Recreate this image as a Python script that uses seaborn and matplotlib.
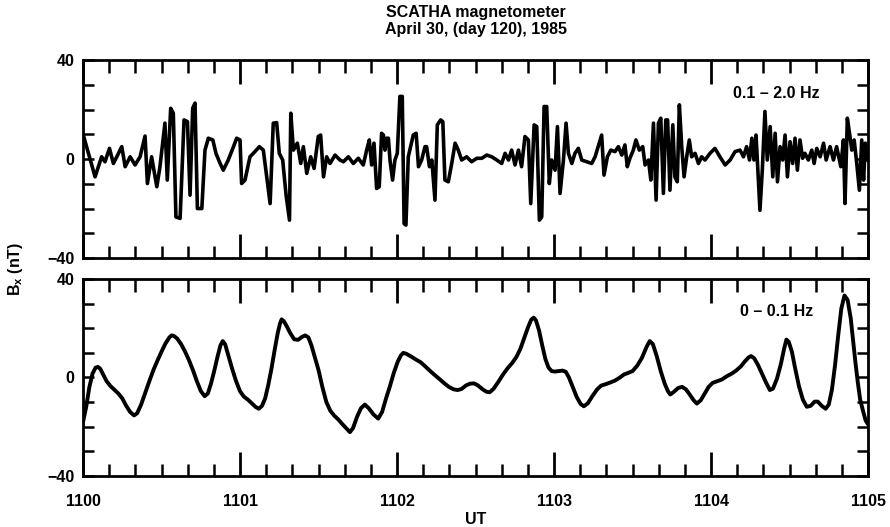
import numpy as np
import pandas as pd
import matplotlib
matplotlib.use("Agg")
import matplotlib.pyplot as plt
from matplotlib.ticker import MultipleLocator, FixedLocator
import seaborn as sns

# SCATHA magnetometer, April 30 (day 120) 1985, Bx from 1100 to 1105 UT
# high-pass trace (0.1 - 2.0 Hz): time in seconds after 1100 UT, Bx in nT
hf_sec = [0.1, 4.6, 7.1, 8.4, 10.1, 11.6, 12.9, 14.8, 16.1, 18.0, 19.9, 21.8, 23.7, 24.6,
          26.2, 28.2, 29.4, 31.3, 32.2, 33.5, 34.5, 35.5, 37.1, 38.6, 39.9, 40.9, 41.9,
          42.8, 43.7, 45.4, 46.6, 47.9, 49.6, 50.8, 52.4, 53.6, 55.5, 57.5, 58.7, 60.0,
          60.6, 61.9, 63.8, 65.7, 67.4, 68.9, 70.2, 71.5, 72.7, 74.0, 75.0, 76.3, 77.6,
          78.9, 79.4, 80.4, 81.9, 83.2, 84.2, 85.5, 87.0, 88.3, 89.9, 90.8, 91.9, 93.1,
          94.4, 96.3, 98.2,
          99.5, 101.4, 103.3, 105.2, 107.1, 108.4, 109.4, 110.3, 111.2, 112.2, 113.2,
          114.1, 114.8, 115.4, 116.0, 116.7, 117.3, 118.3, 119.2, 120.1, 121.1, 122.0,
          122.7, 123.4, 124.3, 125.2, 126.2, 127.3, 128.2, 129.4, 130.7, 131.3, 132.4,
          133.3, 134.5, 135.4, 136.7, 137.5, 138.3, 139.6, 140.9, 142.2, 143.4, 144.7,
          146.6, 148.5, 150.5, 152.4, 154.3, 156.2, 158.1, 160.0, 161.3, 162.6, 163.8,
          165.1, 166.4, 167.6, 168.9, 170.2, 171.1, 172.4, 173.4, 174.4, 175.3, 176.2,
          177.2, 178.2, 179.1, 180.4, 181.3, 182.3, 183.6, 184.6, 185.5, 186.8, 188.0,
          189.3, 190.6, 192.5, 194.4, 195.7,
          198.2, 199.1, 200.4, 201.7, 203.3, 204.6, 205.9, 207.1, 208.0, 209.0, 210.3,
          211.3, 212.6, 213.9, 214.8, 216.1, 217.0, 218.0, 219.0, 219.9, 220.8, 221.8,
          222.7, 223.4, 224.3, 225.4, 226.2, 227.1, 227.9, 228.8, 229.7, 230.7, 231.7,
          232.6, 233.9, 235.2, 236.4, 237.7, 239.6, 241.5, 243.4, 245.4, 247.3, 249.2,
          251.1, 252.4, 253.6, 254.7, 255.6, 256.4, 257.2, 258.1, 258.7, 259.6, 260.6,
          261.5, 262.6, 263.6, 264.5, 265.4, 266.4, 267.4, 268.3, 269.2, 270.2, 271.2,
          272.1, 273.0, 274.0, 275.0, 275.9, 277.2, 278.5, 279.4, 280.4, 281.7, 283.0,
          284.0, 285.5, 286.8, 288.0, 289.6, 290.6, 291.2, 292.1, 293.1, 293.8, 294.7,
          295.7, 296.7, 297.6, 298.3, 299.0, 299.7]
hf_bx = [9.7, -7.2, 0.9, -1.1, 4.3, -1.8, 0.9, 5.0, -3.1, 0.9, -2.4, 0.9, 9.3, -9.9,
         0.9, -11.2, -3.1, 14.5, -8.5, 20.5, 18.5, -23.4, -24.0, 15.8, 15.1, -14.6, 20.5,
         22.6, -20.0, -20.0, 3.6, 8.4, 7.7, 2.3, -1.8, -4.5, -0.4, 5.0, 8.4, 7.7,
         -9.9, -8.5, 0.9, 3.0, 5.0, 3.6, -7.2, -18.0, 14.5, 14.7, 2.3, -0.4, -14.6,
         -24.7, 18.5, 3.6, 6.4, -1.8, 5.0, -5.8, 0.9, -3.8, 9.1, 9.7, -7.2, 0.9,
         -1.8, 1.6, -0.4,
         -1.1, 0.9, -1.8, 0.3, -2.4, 3.6, 7.7, -2.4, 6.4, -11.9, -11.2,
         10.4, 9.7, 3.6, 8.4, 8.4, -0.4, -8.5, -0.4, 2.3, 25.3, 25.3,
         -26.1, -26.7, 0.9, 5.0, 9.7, 10.4, -3.1, -0.4, 5.0, 5.0, -3.1,
         -0.4, -16.6, 13.8, 15.8, 15.1, -8.5, -9.2, -1.8, 6.4, 3.6, -0.4,
         0.9, -1.1, 0.3, 0.3, 1.6, 0.9, -0.4, -1.8, 2.3, -0.4, 3.6,
         -2.4, 3.6, -3.1, 9.1, 7.7, -18.0, 13.8, 13.1, -24.7, -23.4, 21.2,
         21.2, -9.9, -0.4, -4.5, 13.1, -13.9, -0.4, 14.5, 2.3, -1.8, 2.3,
         4.3, -0.4, -1.1, -1.8, 0.9,
         9.7, -6.5, 0.9, 3.6, 3.0, 5.0, 1.6, 5.7, -3.1, 0.3, 3.6,
         7.7, 3.6, 5.0, -2.4, -0.4, -8.5, 14.5, -16.6, 14.5, 16.5, -13.9,
         15.8, 15.8, -12.6, 13.8, -7.2, -9.2, 21.9, 5.0, -7.2, 0.9, 7.7,
         0.9, 2.3, -1.8, 0.9, -0.4, 2.3, 4.3, 0.9, -2.4, -0.4, 3.0,
         3.6, 0.9, 5.0, -0.4, 8.4, -0.4, 9.7, -8.5, -20.7, -4.5, 19.2,
         -0.4, 13.1, -7.2, 10.4, -9.2, 5.0, -0.4, 9.7, -7.2, 7.0, -1.8,
         8.4, -4.5, 7.7, 0.3, 2.3, -0.4, 3.6, -1.8, 4.3, 0.9, 6.4,
         -0.4, 5.0, -0.4, 5.0, -3.1, 7.7, -18.0, 16.5, 9.1, 3.6, 7.7,
         -1.8, -12.6, 7.7, -8.5, 6.4, -0.4]

# low-pass trace (0 - 0.1 Hz): time in minutes after 1100 UT, Bx in nT
lf_min = [0.000, 0.020, 0.040, 0.060, 0.080, 0.095, 0.110, 0.130, 0.150, 0.175, 0.200,
          0.225, 0.250, 0.275, 0.300, 0.325, 0.345, 0.370, 0.400, 0.425, 0.450, 0.475,
          0.500, 0.525, 0.550, 0.565, 0.580, 0.600, 0.625, 0.650, 0.675, 0.700, 0.725,
          0.750, 0.775, 0.795, 0.815, 0.835, 0.855, 0.875, 0.890, 0.905, 0.925, 0.950,
          0.975, 1.000, 1.025, 1.050, 1.075, 1.100, 1.120, 1.140, 1.160, 1.180, 1.200,
          1.220, 1.240, 1.255, 1.265, 1.280, 1.300, 1.320, 1.345, 1.370, 1.395, 1.415,
          1.435, 1.455, 1.475, 1.500, 1.525, 1.550, 1.575, 1.600, 1.625, 1.650, 1.675,
          1.700, 1.720, 1.745, 1.770, 1.795, 1.820, 1.850, 1.880, 1.905, 1.930, 1.955,
          1.980, 2.005, 2.025, 2.040, 2.060, 2.090, 2.120, 2.150, 2.180, 2.210, 2.240,
          2.270, 2.300, 2.330, 2.360, 2.385, 2.410, 2.440, 2.465, 2.490, 2.515, 2.545,
          2.570, 2.590, 2.615, 2.645, 2.675, 2.705, 2.735, 2.760, 2.785, 2.810, 2.835,
          2.855, 2.870, 2.885, 2.905, 2.925, 2.945, 2.965, 2.985, 3.005, 3.030, 3.055,
          3.075, 3.095, 3.120, 3.145, 3.170, 3.190, 3.215, 3.245, 3.275, 3.300, 3.330,
          3.360, 3.390, 3.420, 3.445, 3.470, 3.500, 3.530, 3.560, 3.590, 3.610, 3.630,
          3.655, 3.680, 3.705, 3.725, 3.740, 3.760, 3.790, 3.815, 3.840, 3.865, 3.890,
          3.910, 3.935, 3.960, 3.985, 4.010, 4.040, 4.070, 4.100, 4.130, 4.160, 4.190,
          4.215, 4.240, 4.255, 4.275, 4.300, 4.325, 4.350, 4.375, 4.395, 4.420, 4.445,
          4.465, 4.480, 4.495, 4.515, 4.535, 4.560, 4.585, 4.610, 4.635, 4.660, 4.680,
          4.705, 4.730, 4.750, 4.770, 4.790, 4.810, 4.830, 4.850, 4.870, 4.890, 4.905,
          4.920, 4.935, 4.950, 4.970, 4.985, 5.000]
lf_bx = [-18, -12, -4, 1.5, 4, 4.3, 3.5, 1, -1.5, -3.5, -5,
         -6.5, -8.5, -11.5, -14, -15.4, -14.5, -11, -5.5, -1, 3.3, 7,
         10.5, 13.8, 16.3, 17.1, 16.8, 15.8, 13.5, 10.5, 7, 3, -1.5,
         -5.5, -7.6, -6.5, -2.5, 2.5, 8, 13, 14.8, 13.5, 9, 3.5,
         -1.5, -5.6, -7.8, -9, -10.5, -12, -12.7, -11.5, -8.5, -3, 3.5,
         11, 18, 22, 23.6, 22.8, 20.5, 18, 15.5, 15.3, 16.5, 17.1,
         16.3, 13, 8.5, 3, -4, -10, -13.5, -15.5, -17, -18.8, -20.5,
         -22.2, -20.5, -16, -12.5, -11, -12.5, -15, -16.7, -14, -8.5, -3.5,
         2, 6.5, 9, 10, 9.6, 8.5, 7.3, 6.2, 4.5, 2.7, 1,
         -0.6, -2.3, -3.8, -4.8, -5.1, -4.7, -3.2, -2.5, -2.4, -3.2, -4.8,
         -5.8, -6, -4.6, -1.8, 1.2, 3.8, 6, 8.3, 11.5, 16, 20.5,
         23.5, 24.3, 23.2, 19, 13, 7.5, 4, 2.6, 2.4, 2.6, 2.8,
         2.3, 0, -4, -8, -10.8, -11.7, -10.5, -7.5, -4.8, -3.3, -2.7,
         -2, -1.2, 0, 1.2, 1.8, 2.6, 4.8, 8, 12.5, 14.8, 13.5,
         8.5, 2.5, -2.5, -5.5, -6.9, -6, -4.3, -3.8, -4.8, -7, -9.3,
         -10.6, -9.2, -6.5, -3.8, -2.2, -1.5, -0.8, 0.5, 1.5, 2.8, 4.5,
         6.5, 8.2, 8.7, 7.8, 5, 1.5, -2, -5.1, -4.5, -0.5, 5.5,
         11.5, 15.4, 14.5, 10.5, 4, -3.5, -9, -11.9, -11.5, -9.8, -9.8,
         -11.5, -12.7, -11, -5, 5, 17, 28, 33.3, 31.5, 24, 15,
         6, -2, -9, -14, -17.5, -19]

panel_labels = ["0.1 \u2013 2.0 Hz", "0 \u2013 0.1 Hz"]
ut_labels = ["1100", "1101", "1102", "1103", "1104", "1105"]

hf = pd.DataFrame({"t": np.array(hf_sec) / 60.0, "bx": hf_bx})
lf = pd.DataFrame({"t": lf_min, "bx": lf_bx})

sns.set_style("ticks")
plt.rcParams["font.family"] = ["Liberation Sans", "DejaVu Sans"]
plt.rcParams["font.weight"] = "bold"
plt.rcParams["mathtext.fontset"] = "custom"
plt.rcParams["mathtext.rm"] = "Liberation Sans:bold"
plt.rcParams["mathtext.bf"] = "Liberation Sans:bold"
for key in ["text.color", "axes.labelcolor", "xtick.color", "ytick.color", "axes.edgecolor"]:
    plt.rcParams[key] = "black"

fig = plt.figure(figsize=(8.9, 5.27), dpi=100)
ax1 = fig.add_axes([0.0933, 0.5104, 0.882, 0.3757])
ax2 = fig.add_axes([0.0933, 0.0968, 0.882, 0.3738])

sns.lineplot(data=hf, x="t", y="bx", ax=ax1, color="black", linewidth=2.6,
             sort=False, estimator=None)
sns.lineplot(data=lf, x="t", y="bx", ax=ax2, color="black", linewidth=2.8,
             sort=False, estimator=None)

for ax, lab in zip([ax1, ax2], panel_labels):
    ax.set_xlim(0, 5)
    ax.set_ylim(-40, 40)
    ax.set_xlabel("")
    ax.set_ylabel("")
    for s in ax.spines.values():
        s.set_visible(True)
        s.set_linewidth(2)
        s.set_color("black")
    ax.xaxis.set_major_locator(MultipleLocator(1))
    ax.xaxis.set_minor_locator(MultipleLocator(1 / 6))
    ax.yaxis.set_major_locator(FixedLocator([-40, 0, 40]))
    ax.yaxis.set_minor_locator(MultipleLocator(10))
    ax.tick_params(axis="x", which="major", direction="in", top=True, bottom=True,
                   length=17, width=2, pad=13, labelsize=11.5)
    ax.tick_params(axis="x", which="minor", direction="in", top=True, bottom=True,
                   length=9, width=1.8)
    ax.tick_params(axis="y", which="both", direction="in", left=True, right=True,
                   length=8, width=1.8, pad=6, labelsize=11.5)
    ax.text(0.883, 0.833, lab, transform=ax.transAxes, ha="center", va="center",
            fontsize=11.5, fontweight="bold")

ax1.set_xticklabels([])
ax2.set_xticks(range(6))
ax2.set_xticklabels(ut_labels)
ax2.set_xlabel("UT", fontsize=11.5, fontweight="bold", labelpad=2)

ax1.set_title("SCATHA magnetometer\nApril 30, (day 120), 1985", fontsize=11.5,
              fontweight="bold", pad=19, linespacing=1.1)
fig.text(0.017, 0.49, r"$\mathbf{B_x}$ (nT)", rotation=90, ha="center", va="center",
         fontsize=11.5, fontweight="bold")

fig.savefig("out.png", dpi=100)
